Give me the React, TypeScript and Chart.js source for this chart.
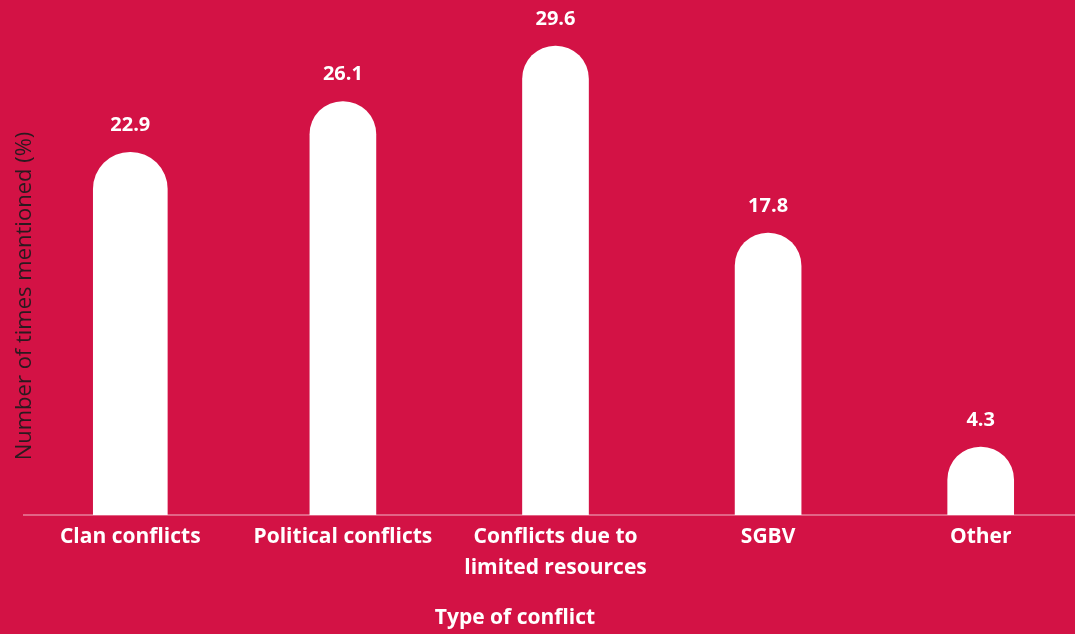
import React, { useEffect, useRef } from "react";
import { Chart, registerables } from "chart.js";

Chart.register(...registerables);

const categories: (string | string[])[] = [
  "Clan conflicts",
  "Political conflicts",
  ["Conflicts due to", "limited resources"],
  "SGBV",
  "Other",
];
const values: number[] = [22.9, 26.1, 29.6, 17.8, 4.3];
const valueLabels: string[] = ["22.9", "26.1", "29.6", "17.8", "4.3"];
const yTitle = "Number of times mentioned (%)";
const xTitle = "Type of conflict";

const BG = "#D31245";
const FONT = '"Open Sans", "Noto Sans", sans-serif';

export default function App() {
  const ref = useRef<HTMLCanvasElement | null>(null);

  useEffect(() => {
    document.body.style.margin = "0";
    const canvas = ref.current;
    if (!canvas) return;

    const bgPlugin = {
      id: "bg",
      beforeDraw(chart: any) {
        const { ctx, width, height } = chart;
        ctx.save();
        ctx.fillStyle = BG;
        ctx.fillRect(0, 0, width, height);
        ctx.restore();
      },
    };

    const labelPlugin = {
      id: "labels",
      afterDraw(chart: any) {
        const { ctx } = chart;
        ctx.save();
        ctx.fillStyle = "#ffffff";
        ctx.font = `700 20px ${FONT}`;
        ctx.textAlign = "center";
        ctx.textBaseline = "middle";
        chart.data.datasets.forEach((ds: any, di: number) => {
          const meta = chart.getDatasetMeta(di);
          meta.data.forEach((el: any, i: number) => {
            if (ds.data[i] == null) return;
            ctx.fillText(valueLabels[i], el.x, el.y - 27);
          });
        });
        // x title
        ctx.font = `700 21px ${FONT}`;
        ctx.fillText(xTitle, 515, 618);
        // y title
        ctx.save();
        ctx.translate(25, 296);
        ctx.rotate(-Math.PI / 2);
        ctx.fillStyle = "#2a1a1f";
        ctx.font = `400 22px ${FONT}`;
        ctx.fillText(yTitle, 0, 0);
        ctx.restore();
        ctx.restore();
      },
    };

    const first = values.map((v, i) => (i === 0 ? v : null));
    const rest = values.map((v, i) => (i === 0 ? null : v));

    const chart = new Chart(canvas, {
      type: "bar",
      data: {
        labels: categories,
        datasets: [
          {
            data: first,
            backgroundColor: "#ffffff",
            barThickness: 74,
            borderRadius: 40,
            borderSkipped: "start",
            grouped: false,
          } as any,
          {
            data: rest,
            backgroundColor: "#ffffff",
            barThickness: 66,
            borderRadius: 40,
            borderSkipped: "start",
            grouped: false,
          } as any,
        ],
      },
      options: {
        responsive: false,
        animation: false,
        layout: { padding: { left: 24, right: 0, top: 8, bottom: 52 } },
        plugins: {
          legend: { display: false },
          tooltip: { enabled: false },
        },
        scales: {
          x: {
            grid: { display: false },
            border: { color: "rgba(255,255,255,0.35)", width: 2 },
            ticks: {
              color: "#ffffff",
              font: { family: FONT, weight: "bold", size: 21, lineHeight: 1.45 },
              padding: -1,
              maxRotation: 0,
              autoSkip: false,
            },
          },
          y: {
            display: false,
            min: 0,
            max: 32,
          },
        },
      },
      plugins: [bgPlugin, labelPlugin],
    });
    return () => chart.destroy();
  }, []);

  return (
    <div style={{ width: 1075, height: 634, overflow: "hidden", background: BG }}>
      <canvas ref={ref} width={1087} height={634} style={{ display: "block" }} />
    </div>
  );
}
